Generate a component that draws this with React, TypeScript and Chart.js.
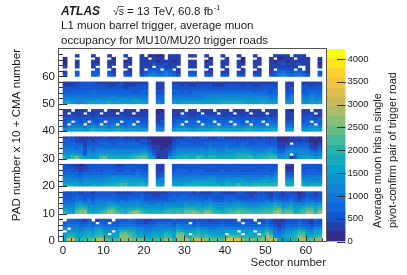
import React, { useEffect, useRef } from "react";
import { Chart, registerables } from "chart.js";

Chart.register(...registerables);

const FONT = "'Liberation Sans', Arial, sans-serif";
const INK = "#1c1c1c";

// Cell values are written as colour-band numbers (base 36: 0-9, a-j), one character per sector; "." = no data.
const pad0 = [
  "8ee99aab ddbaaacc cbbb99aa acc9ccea dedcbbba efffcacb bccee767 99ddabcc",
  "79977898 aa8778cc ba887788 8a97cc98 aa9a9888 abaa8988 9adb5568 89cb889a",
  "68876787 997.77bb a9776677 7987bb8. 89887776 .888.787 .8b84457 78aa7688",
  ".6665676 8866.699 88665566 67769877 78776666 777.767. 77974346 67986577",
  "5.554555 66555566 66554455 55556655 56554455 55554555 55653234 45654355",
  "34443343 44333344 44333334 44435444 34333334 33333333 33432123 33433233",
  "23332232 .32.2233 33221223 3332333. 23222223 2223.322 .2321112 22322122",
  ".332212. 1222.222 33221122 22232222 22221222 222.222. 22321112 22322132",
];
const pad1 = [
  "976bcc87 89acca98 acca9888 89a9a9bb cbacb998 9aabaaa9 aaaacdab b89acc9c",
  "766 9aa76 778aa887 88987777 67888899 98899877 88899888 8899ab89 9789aa8a",
  "55578766 66688766 66766666 56666677 77678666 66777666 67779867 86678878",
  "44466554 55566555 55655445 45555565 56556555 55665555 55667655 65556656",
  "33344343 44444343 44443333 33334444 44344333 43443333 33434433 43234433",
  "22333232 33333322 33332222 22333333 33323222 33322222 33223222 32123223",
  "22232222 22223222 22232211 22232332 22222222 22222212 22212212 22112212",
  "22221221 22222111 12221111 11222222 12111221 11122111 22112212 11012212",
];
const pad2 = [
  "78776777 778889aa 88898..7 6..77788 88888887 888a8889 99999..8 8..87888",
  "66665666 66677788 77776..6 5..66666 77777766 77777667 78777..7 7..66666",
  "55554555 55566666 66665..4 5..55555 55556655 65666555 56666..5 5..55555",
  "44433444 44445555 54544..2 3..44444 44445444 44444444 44545..3 3..44444",
  "33332333 33333333 33433..1 2..33333 33333333 33333333 33334..2 2..33333",
  "23221223 22333223 32332..1 1..23332 33322223 22332222 33323..1 1..23332",
  "22211122 22222222 22222..1 1..22222 22222222 22222222 22222..0 0..22222",
  "22110122 22222112 22222..1 1..22222 22222222 22222222 22222..1 1..22222",
];
const pad3 = [
  "87ab8776 7ab88888 89abb761 11678898 8a989988 888999a8 899aa667 13677767",
  "66776265 67776666 67788631 11356777 77767766 77788876 77887556 .4566545",
  "55554254 55556555 55566421 11245555 55556655 66666665 55665335 65555434",
  "44434243 44444444 44444311 01134444 44545544 54555544 44454223 44444213",
  "33333133 33333333 33333211 00123333 33334333 43334333 33333112 33333112",
  "23322122 23332333 33322100 00022332 22233333 33323322 33222111 .2222101",
  "32211121 22222222 22122100 00012222 22222222 22222222 22222000 11111000",
  "12211111 11211121 11111000 00011122 11221122 11111112 12112000 11121010",
];
const pad4 = [
  "56777678 77767876 77666..5 5..67776 67777887 77777887 77888..6 7..66777",
  "34555456 55545654 55544..4 3..45554 45555665 55655665 55666..4 4..45555",
  "2.343.34 3.334.33 4.333..2 2..34.33 33.444.3 43.434.3 43.44..3 3..334.3",
  "23.323.3 23.333.3 33.22..1 2..233.3 3.333.33 3.333.33 3.333..2 2..23.33",
  "22222222 22222222 22222..1 1..22222 22223322 22322222 22222..1 1..22223",
  "11211121 21111121 11111..1 1..11221 12222221 12121211 11211..1 1..12211",
  "1.111.11 1.111.11 1.111..0 1..11.11 11.111.1 11.111.1 11.11..1 1..111.1",
  "11.111.1 11.101.1 11.11..0 0..111.1 1.111.11 1.111.11 1.111..1 0..11.11",
];
const pad5 = [
  "78655677 77787777 77777..5 4..66777 77777778 88888777 78777..6 6..66777",
  "55555555 65565566 56655..4 3..55555 55566666 66666666 66655..4 5..55655",
  "44444444 44445444 44444..3 3..44444 44455555 55555555 55544..3 4..44544",
  "33333334 33333333 33333..2 2..33333 44444444 44444444 44333..2 3..33443",
  "22333333 33333333 32233..2 2..33232 33333333 33333332 33323..2 2..23333",
  "22222222 22222221 22222..1 1..22222 22222222 22222222 22222..1 2..22222",
  "11122222 22211221 11222..1 1..22121 12222111 22221221 12222..1 1..22122",
  "11112222 11111121 11111..1 1..11111 11111111 11111111 11111..1 1..11111",
];
const pad6 = [
  "2..3...3 3..32..2 2..23554 45432..3 3..22..2 2..22..2 2..22454 34432..3",
  "1..2...2 2..21..1 1..12343 34321..2 2..11..1 1..11..1 1..12343 23321..2",
  "........ 2...1... 1..1.222 .22.1... ....1... 1...1... 1..1.222 2.2.1...",
  "1..1...1 ...1...1 ...111.2 2111...1 1..1...1 ...1...1 ...11111 11..1..1",
  "0..1...1 1..11..1 1..11121 12111..1 1..11..1 1..11..1 1..11121 11211..0",
  "0..1...1 0..11..0 1..11110 11101..1 1..01..1 1..10..1 1..10110 11111..1",
  "0....... 1...0... 1..11.11 1.111... ....0... 1...0... 1..1.001 1.111..1",
  "...1...1 ...1...1 ...1.010 0.111..1 1..1...1 ...1...1 ....1111 .111....",
];
const padRows = [pad0, pad1, pad2, pad3, pad4, pad5, pad6];

const Z_MAX = 4220;
const BANDS = 20;
const X_MAX = 64;
const Y_MAX = 70;
const zTicks = [0, 500, 1000, 1500, 2000, 2500, 3000, 3500, 4000];
const xTitle = "Sector number";
const yTitle = "PAD number x 10 + CMA number";
const zTitleLines = ["Average muon hits in single", "pivot-confirm pair of trigger road"];
const headerLines = ["L1 muon barrel trigger, average muon", "occupancy for MU10/MU20 trigger roads"];

// ROOT kBird palette stops
const birdR = [0.2082, 0.0592, 0.078, 0.0232, 0.1802, 0.5301, 0.8186, 0.9956, 0.9764];
const birdG = [0.1664, 0.3599, 0.5041, 0.6419, 0.7178, 0.7492, 0.7328, 0.7862, 0.9832];
const birdB = [0.5293, 0.8684, 0.8385, 0.7914, 0.6425, 0.4662, 0.3499, 0.1968, 0.0539];

function bandColor(i: number): string {
  const t = (i / (BANDS - 1)) * 8;
  const k = Math.min(7, Math.floor(t));
  const f = t - k;
  const mix = (a: number[]) => Math.round((a[k] + (a[k + 1] - a[k]) * f) * 255);
  return `rgb(${mix(birdR)},${mix(birdG)},${mix(birdB)})`;
}

function buildDatasets() {
  const out: any[] = [];
  padRows.forEach((rows, p) => {
    rows.forEach((row, c) => {
      const y = p * 10 + c;
      const cells = row.replace(/\s/g, "").split("");
      const data: any[] = [];
      const colors: string[] = [];
      cells.forEach((ch, s) => {
        if (ch === ".") return;
        const level = parseInt(ch, 36);
        data.push({ x: s + 0.5, y: [y, y + 1] });
        colors.push(bandColor(level));
      });
      out.push({ data, backgroundColor: colors, borderWidth: 0, barPercentage: 1, categoryPercentage: 1, grouped: false });
    });
  });
  return out;
}

const mainPlugin = {
  id: "mainDecor",
  afterDatasetsDraw(chart: any) {
    const { ctx, chartArea: a, scales } = chart;
    ctx.save();
    ctx.strokeStyle = "#333";
    ctx.lineWidth = 1;
    scales.x.ticks.forEach((t: any) => {
      const px = Math.round(scales.x.getPixelForValue(t.value)) + 0.5;
      const len = t.value % 10 === 0 ? 5.5 : 2.8;
      ctx.beginPath();
      ctx.moveTo(px, a.bottom);
      ctx.lineTo(px, a.bottom - len);
      ctx.stroke();
    });
    scales.y.ticks.forEach((t: any) => {
      const py = Math.round(scales.y.getPixelForValue(t.value)) + 0.5;
      const len = t.value % 10 === 0 ? 8 : 4;
      ctx.beginPath();
      ctx.moveTo(a.left, py);
      ctx.lineTo(a.left + len, py);
      ctx.stroke();
    });
    ctx.strokeStyle = "#555";
    ctx.strokeRect(a.left - 0.5, a.top - 0.5, a.right - a.left + 1, a.bottom - a.top + 1);
    ctx.restore();

    ctx.save();
    ctx.fillStyle = INK;
    ctx.textBaseline = "alphabetic";
    ctx.textAlign = "left";
    ctx.font = `italic bold 12px ${FONT}`;
    ctx.fillText("ATLAS", 61, 15);
    ctx.font = `10.5px ${FONT}`;
    ctx.fillText("\u221As", 113, 15);
    ctx.lineWidth = 0.7;
    ctx.strokeStyle = INK;
    ctx.beginPath();
    ctx.moveTo(118, 6.5);
    ctx.lineTo(124, 6.5);
    ctx.stroke();
    ctx.font = `11.5px ${FONT}`;
    ctx.fillText("= 13 TeV, 60.8 fb", 127, 15);
    ctx.font = `7px ${FONT}`;
    ctx.fillText("-1", 214, 10);
    ctx.font = `11.5px ${FONT}`;
    ctx.fillText(headerLines[0], 61, 29);
    ctx.fillText(headerLines[1], 61, 43.5);
    ctx.restore();
  },
};

const barPlugin = {
  id: "barDecor",
  afterDatasetsDraw(chart: any) {
    const { ctx, chartArea: a, scales } = chart;
    ctx.save();
    ctx.strokeStyle = "#333";
    ctx.lineWidth = 1;
    scales.y.ticks.forEach((t: any) => {
      const py = Math.round(scales.y.getPixelForValue(t.value)) + 0.5;
      ctx.beginPath();
      ctx.moveTo(a.right, py);
      ctx.lineTo(a.right - 8.5, py);
      ctx.stroke();
    });
    ctx.restore();
    ctx.save();
    ctx.fillStyle = INK;
    ctx.font = `11px ${FONT}`;
    ctx.textAlign = "left";
    ctx.textBaseline = "alphabetic";
    zTitleLines.forEach((line, i) => {
      ctx.save();
      ctx.translate(380.5 - 327 + i * 15.5, 228);
      ctx.rotate(-Math.PI / 2);
      ctx.fillText(line, 0, 0);
      ctx.restore();
    });
    ctx.restore();
  },
};

export default function App() {
  const mainRef = useRef<HTMLCanvasElement>(null);
  const barRef = useRef<HTMLCanvasElement>(null);

  useEffect(() => {
    const main = new Chart(mainRef.current as HTMLCanvasElement, {
      type: "bar",
      data: { datasets: buildDatasets() },
      plugins: [mainPlugin],
      options: {
        responsive: false,
        animation: false,
        layout: { padding: { left: 0, top: 49, right: 81, bottom: 0 } },
        plugins: { legend: { display: false }, tooltip: { enabled: false } },
        scales: {
          x: {
            type: "linear",
            min: 0,
            max: X_MAX,
            grid: { display: false, drawTicks: false },
            border: { display: false },
            afterFit: (s: any) => { s.height = 34; },
            afterBuildTicks: (s: any) => {
              const ticks = [];
              for (let v = 0; v <= X_MAX; v += 2) ticks.push({ value: v });
              s.ticks = ticks;
            },
            ticks: {
              autoSkip: false,
              maxRotation: 0,
              padding: 3,
              color: INK,
              font: { family: FONT, size: 11.5 },
              callback: (v: any) => (Number(v) % 10 === 0 ? String(v) : ""),
            },
            title: {
              display: true,
              text: xTitle,
              align: "end",
              color: INK,
              font: { family: FONT, size: 11.5 },
              padding: { top: 0, bottom: 5 },
            },
          },
          y: {
            type: "linear",
            min: 0,
            max: Y_MAX,
            grid: { display: false, drawTicks: false },
            border: { display: false },
            afterFit: (s: any) => { s.width = 59; },
            afterBuildTicks: (s: any) => {
              const ticks = [];
              for (let v = 0; v <= Y_MAX - 2; v += 2) ticks.push({ value: v });
              s.ticks = ticks;
            },
            ticks: {
              autoSkip: false,
              padding: 4,
              color: INK,
              font: { family: FONT, size: 11.5 },
              callback: (v: any) => (Number(v) % 10 === 0 ? String(v) : ""),
            },
            title: {
              display: true,
              text: yTitle,
              align: "end",
              color: INK,
              font: { family: FONT, size: 11.6 },
              padding: { top: 10, bottom: 0 },
            },
          },
        },
      } as any,
    });

    const bandDatasets = Array.from({ length: BANDS }, (_, i) => ({
      data: [[(i * Z_MAX) / BANDS, ((i + 1) * Z_MAX) / BANDS]],
      backgroundColor: bandColor(i),
      borderWidth: 0,
      barPercentage: 1,
      categoryPercentage: 1,
      grouped: false,
    }));
    const bar = new Chart(barRef.current as HTMLCanvasElement, {
      type: "bar",
      data: { labels: ["z"], datasets: bandDatasets },
      plugins: [barPlugin],
      options: {
        responsive: false,
        animation: false,
        layout: { padding: { left: 0, top: 49, right: 0, bottom: 33.5 } },
        plugins: { legend: { display: false }, tooltip: { enabled: false } },
        scales: {
          x: { display: false, offset: true },
          y: {
            position: "right",
            min: 0,
            max: Z_MAX,
            grid: { display: false, drawTicks: false },
            border: { display: false },
            afterFit: (s: any) => { s.width = 61.5; },
            afterBuildTicks: (s: any) => { s.ticks = zTicks.map((value) => ({ value })); },
            ticks: {
              autoSkip: false,
              padding: 2,
              color: INK,
              font: { family: FONT, size: 9.5 },
              callback: (v: any) => String(v),
            },
          },
        },
      } as any,
    });

    return () => {
      main.destroy();
      bar.destroy();
    };
  }, []);

  return (
    <div style={{ position: "fixed", left: 0, top: 0, width: 407, height: 275, background: "#fff", overflow: "hidden" }}>
      <canvas ref={mainRef} width={407} height={275} style={{ position: "absolute", left: 0, top: 0 }} />
      <canvas ref={barRef} width={80} height={275} style={{ position: "absolute", left: 327, top: 0 }} />
    </div>
  );
}
